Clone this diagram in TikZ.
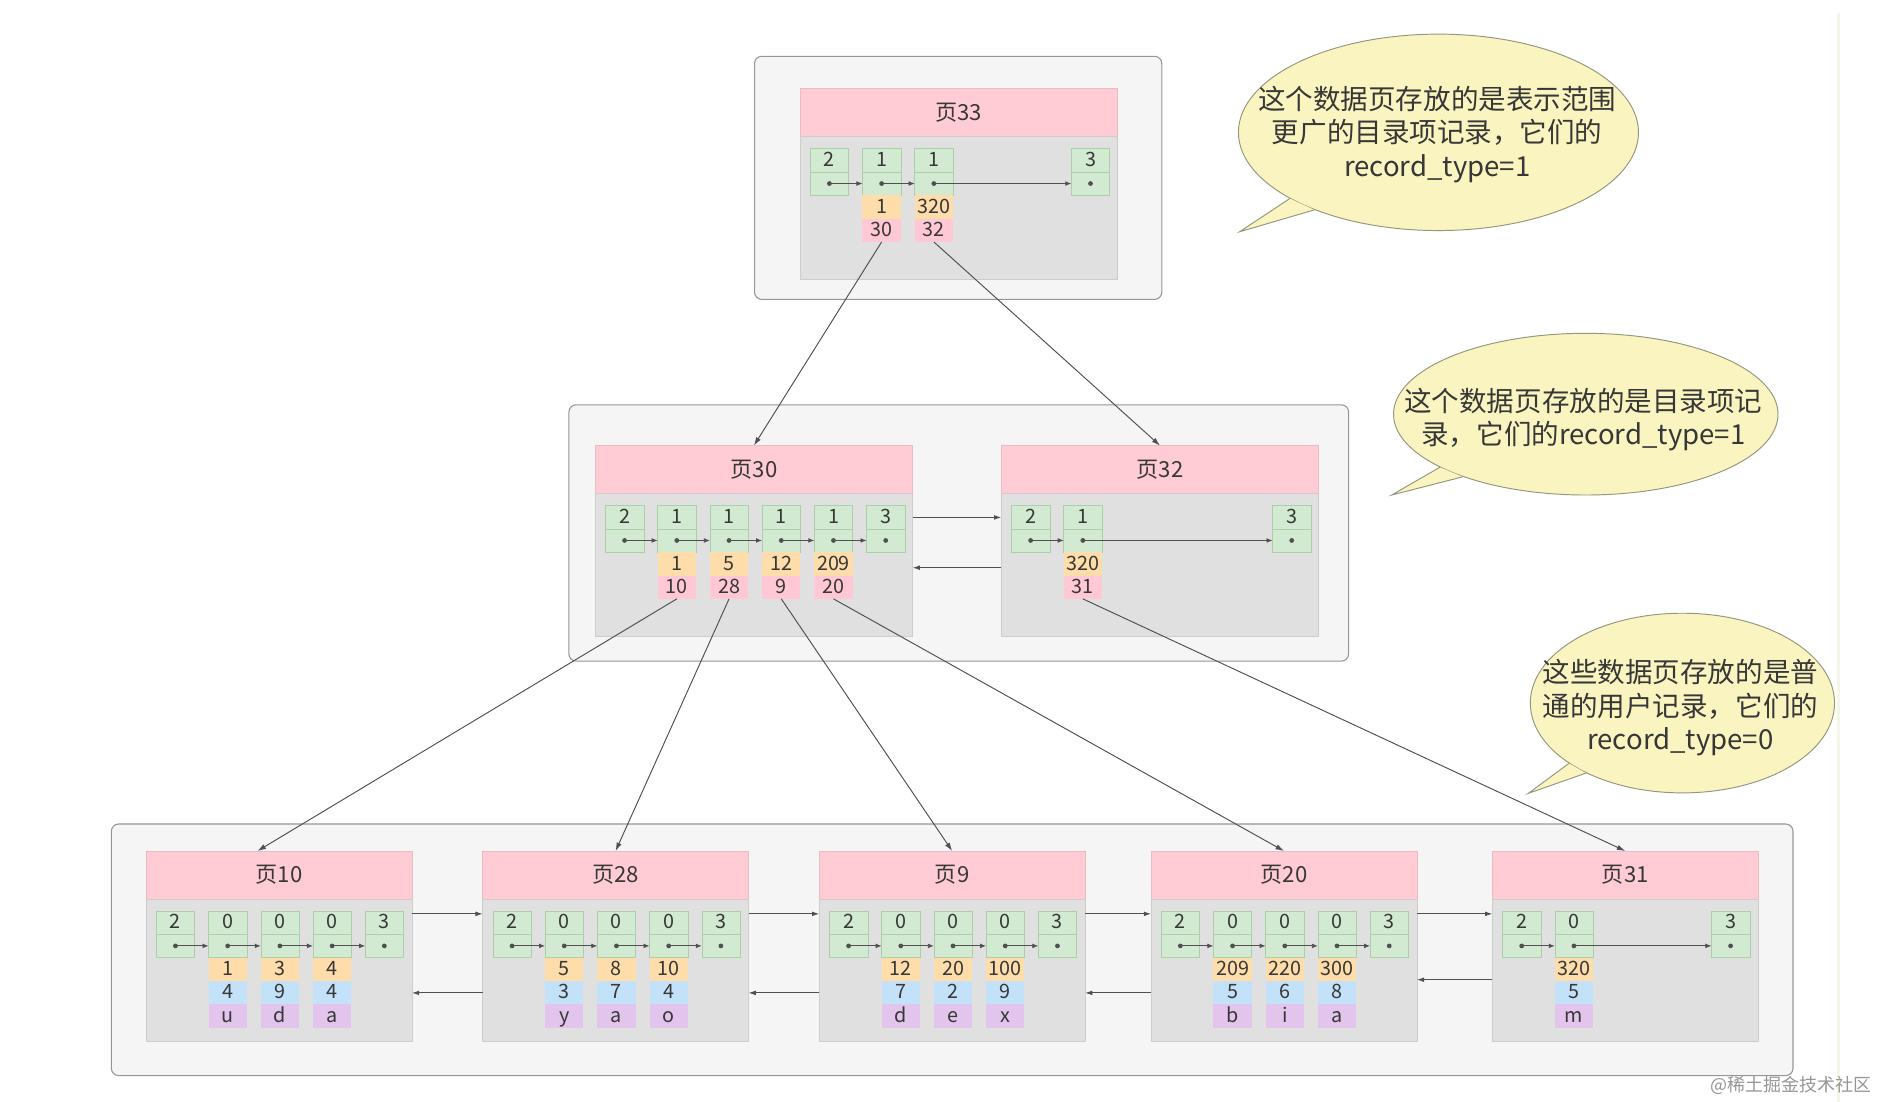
\documentclass[tikz,border=0pt]{standalone}
\usepackage{fontspec}
\usepackage{tikz}
\usetikzlibrary{arrows.meta, positioning, shapes.geometric, calc}

\newfontfamily\cjk{Noto Sans CJK SC}

\definecolor{boxfill}{RGB}{245,245,245}
\definecolor{boxline}{RGB}{150,150,150}
\definecolor{headfill}{RGB}{255,204,213}
\definecolor{headline}{RGB}{236,186,196}
\definecolor{bodyfill}{RGB}{224,224,224}
\definecolor{bodyline}{RGB}{205,205,205}
\definecolor{greenfill}{RGB}{210,234,210}
\definecolor{greenline}{RGB}{172,206,168}
\definecolor{keyfill}{RGB}{255,221,170}
\definecolor{ptrfill}{RGB}{255,200,212}
\definecolor{colfill}{RGB}{196,225,250}
\definecolor{chrfill}{RGB}{226,196,236}
\definecolor{bubfill}{RGB}{250,245,192}
\definecolor{bubline}{RGB}{150,150,125}
\definecolor{txt}{RGB}{55,55,55}
\definecolor{wire}{RGB}{80,80,80}

% data page: header node #1, body node #1b
\newcommand\dpage[5]{%
  \node[phead, minimum width=#4pt, anchor=north west] (#1) at (#2,#3) {#5};
  \node[pbody, minimum width=#4pt, below=0pt of #1] (#1b) {};
}
% record column: page, slot, record type
\newcommand\drec[3]{%
  \node[gcell, anchor=north west] (#1-#2) at ($(#1.north west)+({8.5+43.6*#2},50)$) {#3};
  \node[gcell, below=0pt of #1-#2] (#1-d#2) {};
  \fill[wire] (#1-d#2.center) circle (2pt);
}
% directory record: page, slot, min key, child page
\newcommand\idxrec[4]{%
  \drec{#1}{#2}{1}
  \node[kcell, below=0pt of #1-d#2] (#1-k#2) {#3};
  \node[pcell, below=0pt of #1-k#2] (#1-p#2) {#4};
}
% leaf page with user records
\newcommand\leafpage[4]{%
  \dpage{#1}{#2}{710.5}{222}{#3}
  \drec{#1}{0}{2}
  \foreach \i/\rk/\rv/\rch in {#4} {
    \drec{#1}{\i}{0}
    \node[kcell, below=0pt of #1-d\i] (#1-k\i) {\rk};
    \node[vcell, below=0pt of #1-k\i] (#1-v\i) {\rv};
    \node[ccell, below=0pt of #1-v\i] (#1-c\i) {\rch};
  }
  \drec{#1}{4}{3}
}

\begin{document}
\begin{tikzpicture}[
    x=1pt, y=-1pt,
    outer/.style={draw=boxline, fill=boxfill, rounded corners=6pt, line width=0.9pt},
    phead/.style={rectangle, draw=headline, fill=headfill, minimum height=40pt, inner sep=0pt, outer sep=0pt, text=txt, font=\cjk\fontsize{18.5}{20}\selectfont},
    pbody/.style={rectangle, draw=bodyline, fill=bodyfill, minimum height=119pt, inner sep=0pt, outer sep=0pt},
    cell/.style={rectangle, minimum width=32pt, minimum height=19.5pt, inner sep=0pt, outer sep=0pt, text height=12pt, text depth=1.5pt, text=txt, font=\cjk\fontsize{16.5}{18}\selectfont},
    gcell/.style={cell, draw=greenline, fill=greenfill},
    kcell/.style={cell, fill=keyfill},
    pcell/.style={cell, fill=ptrfill},
    vcell/.style={cell, fill=colfill},
    ccell/.style={cell, fill=chrfill},
    nxt/.style={-{Latex[length=5pt,width=4pt]}, wire, line width=0.7pt},
    plink/.style={-{Latex[length=6pt,width=4pt]}, wire, line width=0.8pt},
    tree/.style={-{Latex[length=7pt,width=4.5pt]}, wire, line width=0.8pt},
    bubble/.style={ellipse, draw=bubline, fill=bubfill, line width=0.8pt, inner sep=0pt},
    note/.style={align=center, text=txt, font=\cjk\fontsize{23}{28}\selectfont}
  ]
    \useasboundingbox (0,0) rectangle (1568,920);
    \fill[white] (0,0) rectangle (1568,920);
    \draw[line width=2pt, color={rgb,255:red,246;green,246;blue,232}] (1535,11) -- (1535,920);

    % levels
    \draw[outer] (630,47) rectangle (970,250);
    \draw[outer] (475,338) rectangle (1126,552);
    \draw[outer] (93,688) rectangle (1497,898);

    % root page
    \dpage{p33}{668}{74}{265}{页33}
    \drec{p33}{0}{2}
    \idxrec{p33}{1}{1}{30}
    \idxrec{p33}{2}{320}{32}
    \drec{p33}{5}{3}
    \foreach \a/\b in {0/1,1/2,2/5} \draw[nxt] (p33-d\a.center) -- (p33-d\b.west);

    % directory pages
    \dpage{p30}{497}{372}{265}{页30}
    \drec{p30}{0}{2}
    \idxrec{p30}{1}{1}{10}
    \idxrec{p30}{2}{5}{28}
    \idxrec{p30}{3}{12}{9}
    \idxrec{p30}{4}{209}{20}
    \drec{p30}{5}{3}
    \foreach \a/\b in {0/1,1/2,2/3,3/4,4/5} \draw[nxt] (p30-d\a.center) -- (p30-d\b.west);

    \dpage{p32}{836}{372}{265}{页32}
    \drec{p32}{0}{2}
    \idxrec{p32}{1}{320}{31}
    \drec{p32}{5}{3}
    \foreach \a/\b in {0/1,1/5} \draw[nxt] (p32-d\a.center) -- (p32-d\b.west);

    \draw[plink] ($(p30.north east)+(0,60)$) -- ($(p32.north west)+(0,60)$);
    \draw[plink] ($(p32.north west)+(0,102)$) -- ($(p30.north east)+(0,102)$);

    % leaf pages
    \leafpage{p10}{122}{页10}{1/1/4/u, 2/3/9/d, 3/4/4/a}
    \leafpage{p28}{403}{页28}{1/5/3/y, 2/8/7/a, 3/10/4/o}
    \leafpage{p9}{684}{页9}{1/12/7/d, 2/20/2/e, 3/100/9/x}
    \leafpage{p20}{961}{页20}{1/209/5/b, 2/220/6/i, 3/300/8/a}
    \leafpage{p31}{1246}{页31}{1/320/5/m}
    \foreach \pg in {p10,p28,p9,p20} {
      \foreach \a/\b in {0/1,1/2,2/3,3/4} \draw[nxt] (\pg-d\a.center) -- (\pg-d\b.west);
    }
    \foreach \a/\b in {0/1,1/4} \draw[nxt] (p31-d\a.center) -- (p31-d\b.west);

    \foreach \l/\r/\h in {p10/p28/118.5, p28/p9/118.5, p9/p20/118.5, p20/p31/107.5} {
      \draw[plink] ($(\l.north east)+(0,52.5)$) -- ($(\r.north west)+(0,52.5)$);
      \draw[plink] ($(\r.north west)+(0,\h)$) -- ($(\l.north east)+(0,\h)$);
    }

    % child pointers
    \draw[tree] (p33-p1.south) -- (p30.north);
    \draw[tree] (p33-p2.south) -- (p32.north);
    \draw[tree] (p30-p1.south) -- ([xshift=-18pt]p10.north);
    \draw[tree] (p30-p2.south) -- (p28.north);
    \draw[tree] (p30-p3.south) -- (p9.north);
    \draw[tree] (p30-p4.south) -- (p20.north);
    \draw[tree] (p32-p1.south) -- (p31.north);

    % callouts
    \node[bubble, minimum width=334pt, minimum height=164pt] (bub1) at (1201,110.5) {};
    \coordinate (bub1-tip) at (1035,193.5);
    \fill[bubfill] (bub1.204) -- (bub1-tip) -- (bub1.212) -- cycle;
    \draw[bubline, line width=0.8pt] (bub1.204) -- (bub1-tip) -- (bub1.212);
    \node[note] (note1) at (1200,112) {这个数据页存放的是表示范围\\更广的目录项记录，它们的\\record\_type=1};

    \node[bubble, minimum width=321pt, minimum height=135pt] (bub2) at (1324,345.8) {};
    \coordinate (bub2-tip) at (1162,413.3);
    \fill[bubfill] (bub2.200) -- (bub2-tip) -- (bub2.207) -- cycle;
    \draw[bubline, line width=0.8pt] (bub2.200) -- (bub2-tip) -- (bub2.207);
    \node[note] (note2) at (1322,350.5) {这个数据页存放的是目录项记\\录，它们的record\_type=1};

    \node[bubble, minimum width=254pt, minimum height=150pt] (bub3) at (1404.7,587) {};
    \coordinate (bub3-tip) at (1276,662.4);
    \fill[bubfill] (bub3.208) -- (bub3-tip) -- (bub3.216) -- cycle;
    \draw[bubline, line width=0.8pt] (bub3.208) -- (bub3-tip) -- (bub3.216);
    \node[note] (note3) at (1403,591) {这些数据页存放的是普\\通的用户记录，它们的\\record\_type=0};

    % watermark
    \node[text={rgb,255:red,150;green,150;blue,150}, font=\cjk\fontsize{15}{17}\selectfont] (mark) at (1495.5,906.5) {@稀土掘金技术社区};
\end{tikzpicture}
\end{document}
